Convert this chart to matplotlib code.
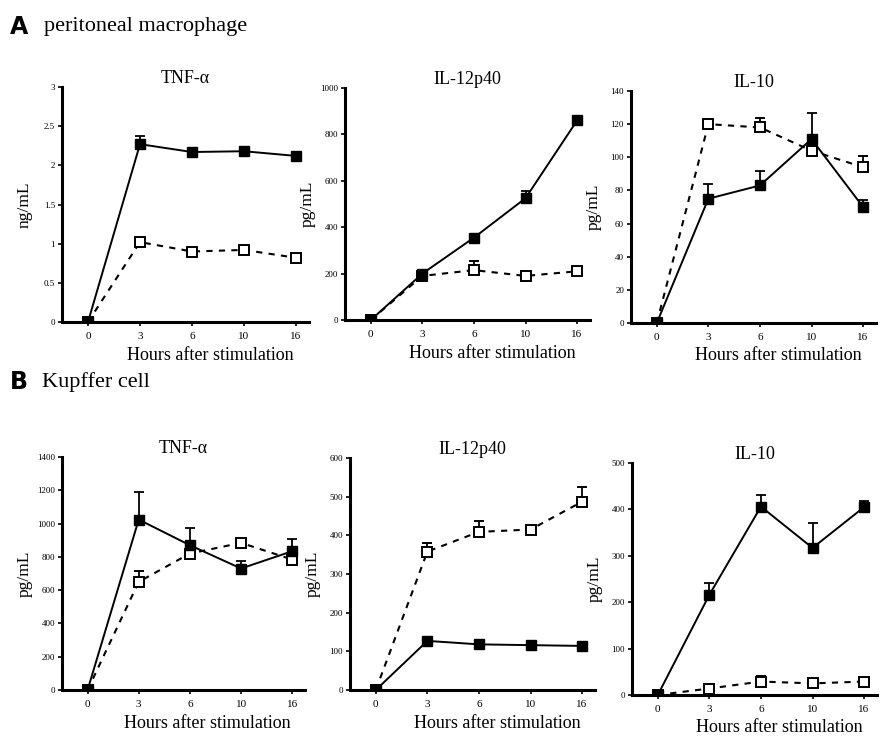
import numpy as np
import matplotlib
matplotlib.use('Agg')
import matplotlib.pyplot as plt

plt.rcParams['font.family'] = ['Liberation Serif', 'DejaVu Serif']

hours = ['0', '3', '6', '10', '16']

# A: peritoneal macrophage
a_tnf_solid = [0, 2.27, 2.17, 2.18, 2.12]
a_tnf_solid_err = [0, 0.10, 0.02, 0.04, 0.04]
a_tnf_open = [0, 1.02, 0.90, 0.92, 0.82]
a_tnf_open_err = [0, 0.02, 0.02, 0.02, 0.02]

a_il12_solid = [0, 200, 355, 525, 860]
a_il12_solid_err = [0, 8, 8, 30, 12]
a_il12_open = [0, 190, 215, 190, 210]
a_il12_open_err = [0, 6, 40, 6, 20]

a_il10_solid = [0, 75, 83, 111, 70]
a_il10_solid_err = [0, 9, 9, 16, 4]
a_il10_open = [0, 120, 118, 104, 94]
a_il10_open_err = [0, 1, 6, 2, 7]

# B: Kupffer cell
b_tnf_solid = [0, 1024, 870, 730, 834]
b_tnf_solid_err = [0, 166, 104, 44, 76]
b_tnf_open = [0, 650, 820, 884, 784]
b_tnf_open_err = [0, 66, 10, 10, 10]

b_il12_solid = [0, 127, 118, 116, 114]
b_il12_solid_err = [0, 3, 3, 3, 3]
b_il12_open = [0, 358, 409, 415, 487]
b_il12_open_err = [0, 21, 28, 13, 39]

b_il10_solid = [0, 216, 406, 317, 405]
b_il10_solid_err = [0, 26, 26, 53, 14]
b_il10_open = [0, 14, 29, 25, 29]
b_il10_open_err = [0, 3, 12, 3, 3]

panels = [
    # (left, top, right, bottom) px, title, ylabel, ymax, ystep, ticklabels, solid, serr, open, oerr
    ((62, 87, 309, 322), 'TNF-α', 'ng/mL', 3, 0.5, ['0', '0.5', '1', '1.5', '2', '2.5', '3'],
     a_tnf_solid, a_tnf_solid_err, a_tnf_open, a_tnf_open_err),
    ((345, 88, 590, 320), 'IL-12p40', 'pg/mL', 1000, 200, None,
     a_il12_solid, a_il12_solid_err, a_il12_open, a_il12_open_err),
    ((631, 91, 876, 323), 'IL-10', 'pg/mL', 140, 20, None,
     a_il10_solid, a_il10_solid_err, a_il10_open, a_il10_open_err),
    ((62, 457, 305, 690), 'TNF-α', 'pg/mL', 1400, 200, None,
     b_tnf_solid, b_tnf_solid_err, b_tnf_open, b_tnf_open_err),
    ((350, 458, 595, 690), 'IL-12p40', 'pg/mL', 600, 100, None,
     b_il12_solid, b_il12_solid_err, b_il12_open, b_il12_open_err),
    ((632, 463, 877, 695), 'IL-10', 'pg/mL', 500, 100, None,
     b_il10_solid, b_il10_solid_err, b_il10_open, b_il10_open_err),
]

W, H = 881, 738
fig = plt.figure(figsize=(W / 100, H / 100), dpi=100)

x = np.arange(len(hours))
for (l, t, r, b), title, ylab, ymax, ystep, tlabels, s, se, o, oe in panels:
    ax = fig.add_axes([l / W, 1 - b / H, (r - l) / W, (b - t) / H])
    ax.errorbar(x, o, yerr=[np.zeros(len(o)), oe], color='black', ls='--', lw=1.5,
                marker='s', ms=6.5, mfc='white', mec='black', mew=1.4,
                capsize=3.5, elinewidth=1.3, capthick=1.3, dashes=(3, 3))
    ax.errorbar(x, s, yerr=[np.zeros(len(s)), se], color='black', ls='-', lw=1.4,
                marker='s', ms=7, mfc='black', mec='black',
                capsize=3.5, elinewidth=1.3, capthick=1.3)
    ax.set_xlim(-0.5, 4.25)
    ax.set_ylim(0, ymax)
    ax.set_xticks(x)
    ax.set_xticklabels(hours, fontsize=8)
    yt = np.arange(0, ymax + ystep / 2, ystep)
    ax.set_yticks(yt)
    if tlabels is None:
        tlabels = [str(int(v)) for v in yt]
    ax.set_yticklabels(tlabels, fontsize=6.5)
    for sp in ['top', 'right']:
        ax.spines[sp].set_visible(False)
    for sp in ['left', 'bottom']:
        ax.spines[sp].set_linewidth(2.2)
    ax.tick_params(width=1.2, length=3)
    ax.tick_params(axis='x', pad=4)
    ax.tick_params(axis='y', pad=2)
    ax.set_title(title, fontsize=13, pad=1)
    wpx, hpx = r - l, b - t
    ax.set_ylabel(ylab, fontsize=12.5)
    ax.yaxis.label.set_verticalalignment('center')
    ax.yaxis.set_label_coords(-37 / wpx, 0.5)
    ax.set_xlabel('Hours after stimulation', fontsize=13)
    ax.xaxis.label.set_verticalalignment('center')
    ax.xaxis.set_label_coords(0.6, -33 / hpx)

fig.text(10 / W, 1 - 27 / H, 'A', fontsize=17, fontweight='bold',
         family='DejaVu Sans', va='center')
fig.text(44 / W, 1 - 27 / H, 'peritoneal macrophage', fontsize=16, va='center')
fig.text(10 / W, 1 - 382 / H, 'B', fontsize=17, fontweight='bold',
         family='DejaVu Sans', va='center')
fig.text(42 / W, 1 - 382 / H, 'Kupffer cell', fontsize=16, va='center')

fig.savefig('out.png', dpi=100)
